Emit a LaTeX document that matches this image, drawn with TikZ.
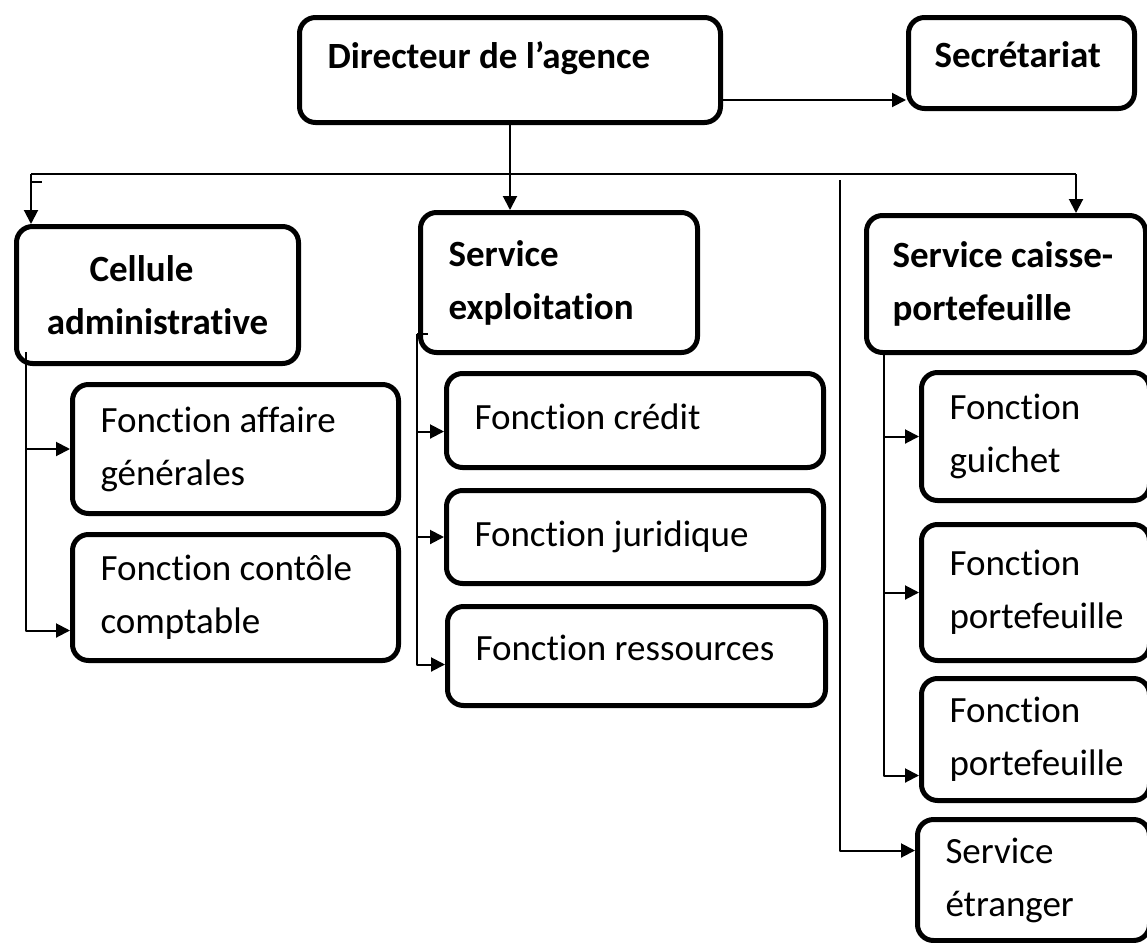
\documentclass[tikz,border=0pt]{standalone}
\usepackage{fontspec}
\setmainfont{Carlito}[Ligatures=NoCommon]
\usetikzlibrary{arrows.meta}

\begin{document}
\begin{tikzpicture}[line join=round,>={Triangle[length=7pt,width=7pt]},x=0.5pt,y=-0.5pt,
  box/.style={draw,line width=2.5pt,rounded corners=8pt,anchor=north west,inner xsep=14pt,inner ysep=0pt,align=flush left,font=\fontsize{18.5pt}{26.5pt}\selectfont},
  head/.style={box,font=\fontsize{18.5pt}{26.5pt}\selectfont\bfseries},
  link/.style={line width=1pt}]
\useasboundingbox (0,0) rectangle (1147,943);
\clip (0,0) rectangle (1147,943);
% direction
\node[head,text width=182.5pt,minimum height=52.5pt] (dir) at (297,15) {\raisebox{6pt}[\height][\depth]{Directeur de l’agence}};
\node[head,inner xsep=13pt,text width=87pt,minimum height=45.5pt] (sec) at (906,15) {\raisebox{4pt}[\height][\depth]{Secrétariat}};
% services
\node[head,inner xsep=10pt,text width=121pt,minimum height=68.5pt,align=flush center] (cel) at (14,224) {\hspace*{-16pt}Cellule\\administrative};
\node[head,text width=110.5pt,minimum height=70pt] (exp) at (418,210) {Service\\exploitation};
\node[head,inner xsep=13pt,text width=113.5pt,minimum height=68.5pt] (cai) at (864,213) {Service \mbox{caisse-}\\portefeuille};
% fonctions
\node[box,text width=135pt,minimum height=64.5pt] (aff) at (70,382) {Fonction affaire\\générales};
\node[box,text width=135pt,minimum height=63pt] (cpt) at (70,532) {Fonction contôle\\comptable};
\node[box,text width=160.5pt,minimum height=47pt] (cre) at (444,371) {\raisebox{2pt}[\height][\depth]{Fonction crédit}};
\node[box,text width=160.5pt,minimum height=46.5pt] (jur) at (444,488) {Fonction juridique};
\node[box,text width=161pt,minimum height=49.5pt] (res) at (445,604) {\raisebox{4pt}[\height][\depth]{Fonction ressources}};
\node[box,text width=86pt,minimum height=64pt] (gui) at (919,370) {Fonction\\guichet};
\node[box,text width=86pt,minimum height=68pt] (pf1) at (919,522) {Fonction\\portefeuille};
\node[box,text width=86pt,minimum height=61pt] (pf2) at (919,676) {Fonction\\portefeuille};
\node[box,text width=88pt,minimum height=60.5pt] (etr) at (915,817) {Service\\étranger};
% liaisons du haut
\draw[link,->] ([yshift=-15pt]dir.east) -- ([yshift=-15pt]dir.east -| sec.west);
\draw[link,->] (dir.south) -- (dir.south |- exp.north);
\coordinate (busL) at (31,174);
\coordinate (busR) at (1076,174);
\draw[link] (busL) -- (busR);
\draw[link,->] (busL) -- (busL |- cel.north);
\draw[link,->] (busR) -- (busR |- cai.north);
\draw[link] ([yshift=-4pt]busL) -- ++(11,0);
\coordinate (sepT) at (840,180);
\draw[link,->] (sepT) |- ([yshift=14.75pt]etr.west);
% cellule
\coordinate (celT) at (26,352);
\draw[link,->] (celT) |- ([yshift=-16.5pt]cpt.west);
\draw[link,->] (celT |- aff.west) -- (aff.west);
% exploitation
\coordinate (expT) at (417,334);
\coordinate (creIn) at ([yshift=-5.5pt]cre.west);
\coordinate (resIn) at ([yshift=-4.25pt]res.west);
\draw[link] (expT) -- ++(11,0);
\draw[link,->] (expT) |- (resIn);
\draw[link,->] (expT |- creIn) -- (creIn);
\draw[link,->] (expT |- jur.west) -- (jur.west);
% caisse
\coordinate (caiT) at (884,352);
\draw[link,->] (caiT) |- ([yshift=-18pt]pf2.west);
\draw[link,->] (caiT |- gui.west) -- (gui.west);
\draw[link,->] (caiT |- pf1.west) -- (pf1.west);
\end{tikzpicture}
\end{document}
